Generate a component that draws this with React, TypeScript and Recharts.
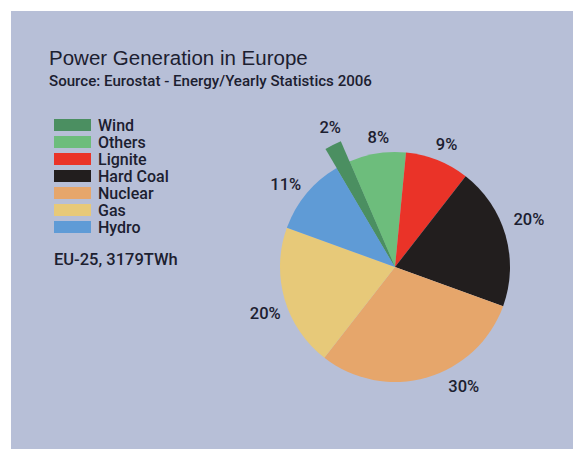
import React from 'react';
import { PieChart, Pie, Cell } from 'recharts';

// ---- data ----
const categories = ['Wind', 'Others', 'Lignite', 'Hard Coal', 'Nuclear', 'Gas', 'Hydro'];
const shares = [2, 8, 9, 20, 30, 20, 11];
const title = 'Power Generation in Europe';
const subtitle = 'Source: Eurostat - Energy/Yearly Statistics 2006';
const footnote = 'EU-25, 3179TWh';

// ---- styles ----
const colors = ['#4b8f61', '#6dbd7c', '#ea3328', '#221e1e', '#e6a66b', '#e7c979', '#5f9bd6'];
const panelColor = '#b7bfd7';
const textColor = '#1c2030';
const FONT = '"Liberation Sans", Arial, Helvetica, sans-serif';
const FONT_MED = 'Roboto, "Liberation Sans", Arial, sans-serif';
// label placement tweaks (clockwise degrees from slice middle, radius)
const labelTweaks = [
  { dA: 2, r: 154 },
  { dA: 1.6, r: 131 },
  { dA: 1.1, r: 133 },
  { dA: -3.3, r: 142 },
  { dA: -13.8, r: 138 },
  { dA: -3.8, r: 138 },
  { dA: -2.6, r: 137 },
];

const data = categories.map((name, i) => ({ name, value: shares[i] }));

const W = 573;
const H = 449;
const CX = 395;
const CY = 267;
const R = 115;
const R_WIND = 137;
const START = 120.5;
const END = START - 360;

const renderLabel = (props: any) => {
  const { cx, cy, midAngle, index, value } = props;
  const t = labelTweaks[index] || { dA: 0, r: R + 20 };
  const theta = ((90 - midAngle + t.dA) * Math.PI) / 180;
  const x = cx + t.r * Math.sin(theta);
  const y = cy - t.r * Math.cos(theta);
  return (
    <text
      key={`lbl-${index}`}
      x={x}
      y={y}
      textAnchor="middle"
      dominantBaseline="central"
      fill={textColor}
      fontSize={16.5}
      fontWeight={500}
      fontFamily={FONT_MED}
    >
      {`${value}%`}
    </text>
  );
};

export default function App() {
  return (
    <div style={{ position: 'absolute', left: 0, top: 0, width: W, height: H, background: '#ffffff' }}>
      <svg width={W} height={H} style={{ position: 'absolute', left: 0, top: 0 }}>
        <rect x={11} y={11} width={W - 11} height={H - 11} fill={panelColor} />
        <text x={49} y={65} fontSize={20.5} fontFamily={FONT} fill={textColor}>
          {title}
        </text>
        <text x={49} y={86} fontSize={15.1} fontWeight={500} fontFamily={FONT_MED} fill={textColor}>
          {subtitle}
        </text>
        {categories.map((name, i) => (
          <g key={name}>
            <rect x={54} y={119 + i * 17} width={37} height={12} fill={colors[i]} />
            <text
              x={98}
              y={125 + i * 17}
              dominantBaseline="central"
              fontSize={16}
              fontWeight={500}
              fontFamily={FONT_MED}
              fill={textColor}
            >
              {name}
            </text>
          </g>
        ))}
        <text x={54} y={265} fontSize={16.5} fontWeight={500} fontFamily={FONT_MED} fill={textColor}>
          {footnote}
        </text>
      </svg>
      <div style={{ position: 'absolute', left: 0, top: 0 }}>
        <PieChart width={W} height={H} margin={{ top: 0, right: 0, bottom: 0, left: 0 }}>
          <Pie
            data={data}
            dataKey="value"
            nameKey="name"
            cx={CX}
            cy={CY}
            outerRadius={R}
            startAngle={START}
            endAngle={END}
            stroke="none"
            isAnimationActive={false}
            label={renderLabel}
            labelLine={false}
          >
            {data.map((d, i) => (
              <Cell key={d.name} fill={colors[i]} stroke="none" />
            ))}
          </Pie>
          <Pie
            data={data}
            dataKey="value"
            nameKey="name"
            cx={CX}
            cy={CY}
            outerRadius={R_WIND}
            startAngle={START}
            endAngle={END}
            stroke="none"
            legendType="none"
            isAnimationActive={false}
          >
            {data.map((d, i) => (
              <Cell key={d.name} fill={i === 0 ? colors[i] : 'none'} stroke="none" />
            ))}
          </Pie>
        </PieChart>
      </div>
    </div>
  );
}
